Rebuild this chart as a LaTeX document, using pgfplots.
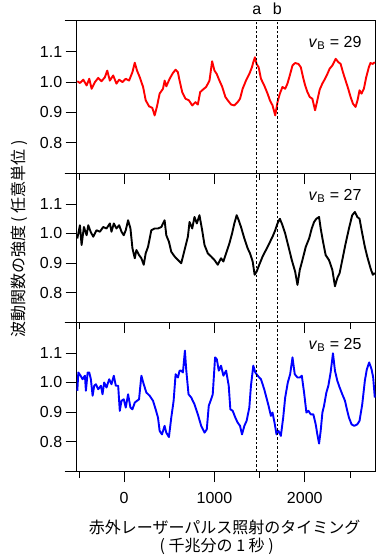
\documentclass[border=0pt]{standalone}
\usepackage{fontspec}
\setmainfont{Liberation Sans}
\newfontfamily\jp{Noto Sans CJK JP}
\usepackage{pgfplots}
\pgfplotsset{compat=1.18}
\pgfplotsset{
  panel/.style={
    scale only axis, width=299pt,
    xmin=-525, xmax=2785, ymin=0.70, ymax=1.205,
    clip=false,
    axis line style={line width=0.8pt},
    tick align=outside, xtick pos=bottom, ytick pos=left,
    xtick={0,1000,2000}, minor xtick={-500,500,1500,2500},
    ytick={0.8,0.9,1.0,1.1},
    yticklabel={\pgfmathprintnumber[fixed,fixed zerofill,precision=1]{\tick}},
    scaled x ticks=false,
    /pgf/number format/1000 sep={},
    /pgf/number format/assume math mode=true,
    major tick length=11pt, minor tick length=7pt,
    every tick/.style={black, line width=0.8pt},
    tick label style={font=\fontsize{16}{19}\selectfont},
    xticklabel style={yshift=-7pt},
  },
}
\newcommand{\panelextras}[1]{%
  \coordinate (B0) at (rel axis cs:0,0);
  \coordinate (T0) at (rel axis cs:0,1);
  \coordinate (PA) at (axis cs:1470,1);
  \coordinate (PB) at (axis cs:1695,1);
  \draw[line width=0.8pt] ([xshift=-12pt]B0) -- (B0);
  \draw[line width=0.8pt] ([xshift=-12pt]T0) -- (T0);
  \draw[line width=1.1pt, dash pattern=on 2.5pt off 2pt] (PA|-B0) -- (PA|-T0);
  \draw[line width=1.1pt, dash pattern=on 2.5pt off 2pt] (PB|-B0) -- (PB|-T0);
  \node[anchor=base east, inner sep=0pt, font=\fontsize{16}{19}\selectfont] at ([xshift=-14pt,yshift=-27pt]rel axis cs:1,1) {\textit{v}\textsubscript{B} = #1};
}
\begin{document}
\begin{tikzpicture}[font=\fontsize{16}{19}\selectfont]
\path[use as bounding box] (-76.7pt,-87pt) rectangle (303.3pt,471pt);

% ---------- panel 1 (v_B = 29) ----------
\begin{axis}[panel, at={(0pt,298pt)}, anchor=south west, height=153pt, xticklabels={}]
\addplot[red, line width=1.9pt, line join=round] table {
x y
-518 1.003
-489 0.997
-452 1.008
-415 0.989
-386 1.011
-360 0.978
-323 1.000
-287 1.014
-250 1.003
-213 1.016
-187 1.038
-158 1.005
-121 1.022
-85 0.995
-55 1.008
-18 1.000
18 1.011
55 1.005
92 1.033
118 1.064
143 1.038
173 1.016
210 0.984
239 0.940
276 0.920
312 0.915
338 0.890
364 0.920
393 0.962
430 0.978
449 1.005
467 0.986
504 1.011
540 1.030
570 1.041
595 1.033
614 1.005
643 0.967
680 0.945
717 0.940
754 0.923
790 0.934
816 0.926
842 0.967
871 0.975
908 0.984
945 1.005
974 1.069
1000 1.038
1025 1.027
1055 1.005
1084 0.986
1121 0.951
1147 0.940
1184 0.926
1220 0.923
1257 0.934
1283 0.945
1312 0.978
1349 1.005
1386 1.027
1415 1.049
1430 1.066
1448 1.082
1466 1.060
1489 1.049
1515 1.011
1551 0.989
1588 0.962
1614 0.940
1643 0.923
1673 0.890
1698 0.934
1724 0.962
1753 0.984
1783 0.978
1808 0.995
1834 1.022
1864 1.055
1893 1.063
1930 1.060
1956 1.049
1981 1.016
2004 0.989
2029 0.967
2055 0.951
2084 0.945
2114 0.907
2139 0.940
2165 0.975
2194 0.995
2224 1.011
2250 1.027
2275 1.044
2305 1.055
2342 1.077
2371 1.066
2397 1.060
2422 1.033
2452 1.005
2481 0.978
2507 0.951
2533 0.929
2562 0.918
2584 0.940
2606 0.973
2628 0.962
2654 0.978
2680 1.016
2709 1.049
2727 1.063
2753 1.060
2775 1.066
};
\panelextras{29}
\node[anchor=base, inner sep=0pt] at ([yshift=6pt]PA|-T0) {a};
\node[anchor=base, inner sep=0pt] at ([yshift=6pt]PB|-T0) {b};
\end{axis}

% ---------- panel 2 (v_B = 27) ----------
\begin{axis}[panel, at={(0pt,149pt)}, anchor=south west, height=149pt, xticklabels={}]
\addplot[black, line width=1.9pt, line join=round] table {
x y
-518 0.983
-489 1.028
-471 0.961
-445 1.022
-415 0.994
-397 1.028
-371 1.006
-342 0.989
-305 1.011
-268 1.006
-232 1.022
-195 1.017
-158 1.034
-140 1.006
-114 1.034
-85 1.017
-55 1.028
-29 1.006
-4 0.994
18 1.011
44 1.045
70 1.017
92 0.950
118 0.916
136 0.944
165 0.927
191 0.916
217 0.894
239 0.933
265 0.955
301 1.011
338 1.017
375 1.017
412 1.022
448 1.045
467 0.994
496 0.972
522 0.938
559 0.922
596 0.910
632 0.899
669 0.944
706 0.989
724 1.039
754 1.017
779 1.056
805 1.034
834 1.062
864 1.011
890 0.961
926 0.933
963 0.922
1000 0.910
1037 0.894
1073 0.916
1099 0.905
1129 0.933
1165 0.966
1195 1.000
1220 1.034
1246 1.062
1268 1.045
1294 1.022
1331 0.983
1367 0.950
1393 0.933
1423 0.905
1445 0.860
1467 0.871
1496 0.894
1533 0.922
1570 0.944
1606 0.966
1643 0.989
1673 1.011
1698 1.034
1724 1.050
1753 1.028
1783 1.000
1820 0.955
1856 0.910
1893 0.871
1919 0.826
1945 0.877
1974 0.910
2011 0.955
2048 0.983
2077 1.017
2103 1.039
2128 1.050
2158 1.056
2176 1.017
2202 0.972
2231 0.927
2268 0.910
2305 0.877
2334 0.821
2360 0.849
2386 0.866
2415 0.910
2452 0.966
2489 1.017
2525 1.062
2555 1.073
2581 1.056
2606 1.050
2636 1.000
2665 0.955
2691 0.922
2728 0.882
2753 0.860
2775 0.866
};
\panelextras{27}
\end{axis}

% ---------- panel 3 (v_B = 25) ----------
\begin{axis}[panel, at={(0pt,0pt)}, anchor=south west, height=149pt]
\addplot[blue, line width=1.9pt, line join=round] table {
x y
-518 0.972
-507 1.034
-482 1.023
-460 1.011
-434 1.023
-423 0.972
-404 1.034
-386 1.034
-368 1.011
-349 0.955
-331 0.989
-312 0.994
-287 0.977
-257 0.989
-239 0.960
-221 1.000
-195 0.983
-165 1.011
-140 0.994
-114 1.023
-92 0.989
-66 0.989
-48 0.904
-29 0.938
-4 0.943
18 0.915
44 0.960
70 0.915
92 0.909
118 0.932
143 0.938
165 0.943
191 1.023
217 0.994
246 0.966
283 0.955
320 0.938
349 0.909
375 0.881
393 0.836
419 0.824
448 0.853
467 0.830
496 0.815
522 0.881
548 0.938
570 1.028
596 1.017
614 1.040
632 1.040
651 1.034
673 1.108
687 1.045
713 0.960
743 0.949
779 0.926
816 0.892
853 0.853
890 0.830
915 0.841
937 0.921
963 0.943
981 0.960
1007 1.085
1026 1.079
1048 1.040
1073 1.057
1099 1.023
1129 1.040
1158 0.989
1176 0.909
1202 0.904
1231 0.881
1257 0.864
1283 0.853
1305 0.824
1331 0.853
1356 0.870
1386 0.915
1404 0.989
1430 1.057
1452 1.034
1478 1.023
1515 1.011
1551 0.977
1570 0.955
1599 0.921
1625 0.887
1643 0.898
1665 0.864
1687 0.824
1709 0.836
1735 0.819
1761 0.881
1783 0.949
1812 1.000
1838 1.028
1864 1.085
1889 1.028
1919 1.017
1945 1.017
1967 1.023
1992 0.966
2018 0.898
2040 0.904
2066 0.892
2095 0.892
2121 0.858
2139 0.824
2158 0.793
2176 0.836
2195 0.898
2213 0.921
2239 0.966
2261 0.989
2286 1.034
2312 1.099
2334 1.040
2360 1.006
2386 0.983
2415 0.960
2445 0.938
2470 0.904
2489 0.881
2518 0.858
2547 0.853
2581 0.858
2606 0.870
2636 0.926
2665 1.006
2687 1.045
2713 1.068
2739 1.045
2757 1.017
2775 0.949
};
\panelextras{25}
\end{axis}

\node[rotate=90, font=\fontsize{16}{19}\selectfont\jp] at (-57pt,232pt) {波動関数の強度 ( 任意単位 )};
\node[font=\fontsize{16}{19}\selectfont\jp] at (148pt,-56pt) {赤外レーザーパルス照射のタイミング};
\node[font=\fontsize{16}{19}\selectfont\jp] at (140pt,-75pt) {( 千兆分の 1 秒 )};
\end{tikzpicture}
\end{document}
